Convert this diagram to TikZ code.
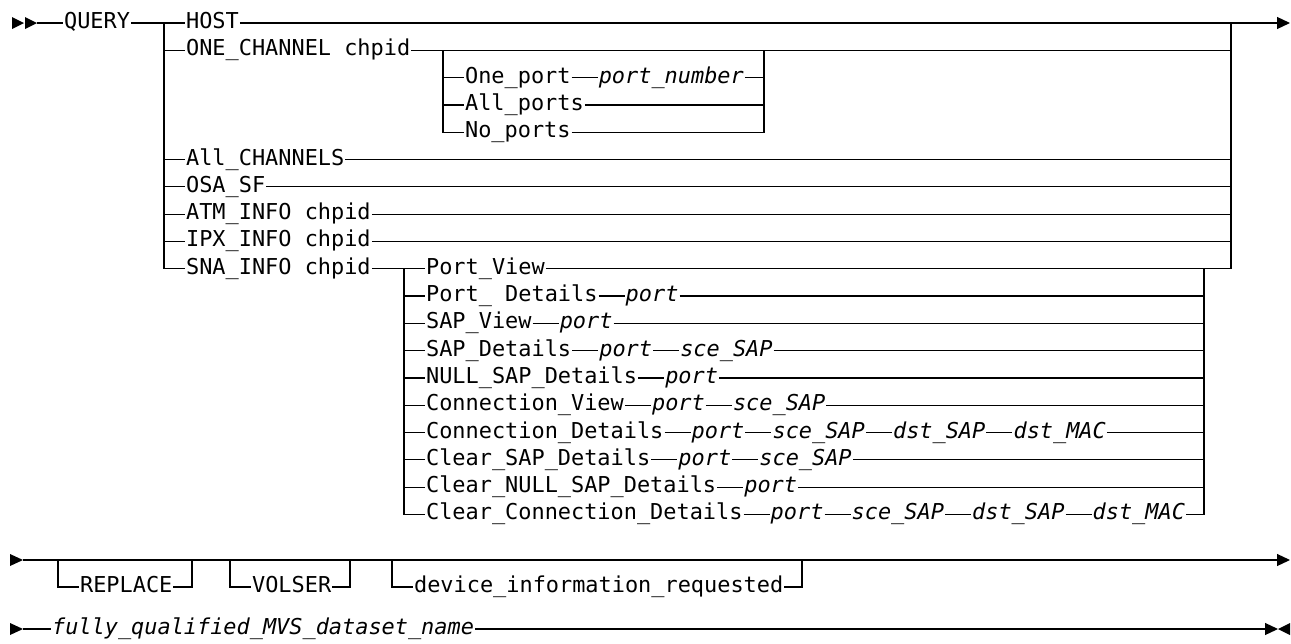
\documentclass[tikz,border=0pt]{standalone}
\usepackage{fontspec}
\newfontfamily\rrfont{DejaVu Sans Mono}
\usetikzlibrary{positioning,arrows.meta}

\begin{document}
\begin{tikzpicture}[x=1pt,y=-1pt,line width=1.2pt,node distance=26pt,
    >={Triangle[length=13pt,width=12pt]},
    kw/.style={font=\rrfont\fontsize{21.9pt}{26pt}\selectfont,anchor=west,
      inner xsep=0.5pt,inner ysep=0pt,text height=15pt,text depth=4pt},
    var/.style={kw,font=\rrfont\itshape\fontsize{21.9pt}{26pt}\selectfont}]
    \useasboundingbox (0,0) rectangle (1291,643);

    % first line
    \fill (12,17) -- (24,23) -- (12,29) -- cycle;
    \fill (25,17) -- (37,23) -- (25,29) -- cycle;
    \coordinate (s0) at (37,23);
    \coordinate (j0) at (164,23);
    \coordinate (j1) at (1231,23);
    \coordinate (e0) at (1290,23);
    \node[kw] (query) at (63,23) {QUERY};
    \node[kw] (host) at (185,23) {HOST};
    \node[kw] (onech) at (185,50.3) {ONE\_CHANNEL chpid};
    \node[kw] (allch) at (185,159.5) {All\_CHANNELS};
    \node[kw] (osasf) at (185,186.8) {OSA\_SF};
    \node[kw] (atm) at (185,214.1) {ATM\_INFO chpid};
    \node[kw] (ipx) at (185,241.4) {IPX\_INFO chpid};
    \node[kw] (sna) at (185,268.7) {SNA\_INFO chpid};

    \draw (s0) -- (query);
    \draw (query) -- (host);
    \draw[->] (host) -- (e0);
    \foreach \n in {onech,allch,osasf,atm,ipx,sna}
        \draw (j0) |- (\n);
    \foreach \n in {onech,allch,osasf,atm,ipx}
        \draw (\n) -| (j1);

    % ports of one channel
    \coordinate (o0) at (443,50.3);
    \coordinate (o1) at (764,50.3);
    \node[kw] (oneport) at (464,77.6) {One\_port};
    \node[var,right=of oneport] (portnum) {port\_number};
    \node[kw] (allports) at (464,104.9) {All\_ports};
    \node[kw] (noports) at (464,132.2) {No\_ports};
    \draw (oneport) -- (portnum);
    \foreach \n in {oneport,allports,noports}
        \draw (o0) |- (\n);
    \foreach \n in {portnum,allports,noports}
        \draw (\n) -| (o1);

    % sna info
    \coordinate (q0) at (404,268.7);
    \coordinate (q1) at (1204,268.7);
    \node[kw] (portview) at (425,268.7) {Port\_View};
    \node[kw] (portdet) at (425,296) {Port\_ Details};
    \node[var,right=of portdet] (portdet1) {port};
    \node[kw] (sapview) at (425,323.3) {SAP\_View};
    \node[var,right=of sapview] (sapview1) {port};
    \node[kw] (sapdet) at (425,350.6) {SAP\_Details};
    \node[var,right=of sapdet] (sapdet1) {port};
    \node[var,right=of sapdet1] (sapdet2) {sce\_SAP};
    \node[kw] (nulldet) at (425,377.9) {NULL\_SAP\_Details};
    \node[var,right=of nulldet] (nulldet1) {port};
    \node[kw] (connview) at (425,405.2) {Connection\_View};
    \node[var,right=of connview] (connview1) {port};
    \node[var,right=of connview1] (connview2) {sce\_SAP};
    \node[kw] (conndet) at (425,432.5) {Connection\_Details};
    \node[var,right=of conndet] (conndet1) {port};
    \node[var,right=of conndet1] (conndet2) {sce\_SAP};
    \node[var,right=of conndet2] (conndet3) {dst\_SAP};
    \node[var,right=of conndet3] (conndet4) {dst\_MAC};
    \node[kw] (clrsap) at (425,459.8) {Clear\_SAP\_Details};
    \node[var,right=of clrsap] (clrsap1) {port};
    \node[var,right=of clrsap1] (clrsap2) {sce\_SAP};
    \node[kw] (clrnull) at (425,487.1) {Clear\_NULL\_SAP\_Details};
    \node[var,right=of clrnull] (clrnull1) {port};
    \node[kw] (clrconn) at (425,514.4) {Clear\_Connection\_Details};
    \node[var,right=of clrconn] (clrconn1) {port};
    \node[var,right=of clrconn1] (clrconn2) {sce\_SAP};
    \node[var,right=of clrconn2] (clrconn3) {dst\_SAP};
    \node[var,right=of clrconn3] (clrconn4) {dst\_MAC};

    \draw (sna) -- (portview);
    \draw (portview) -| (j1);
    \foreach \n in {portdet,sapview,sapdet,nulldet,connview,conndet,clrsap,clrnull,clrconn}
        \draw (q0) |- (\n);
    \foreach \a/\b in {portdet/portdet1,sapview/sapview1,sapdet/sapdet1,sapdet1/sapdet2,
        nulldet/nulldet1,connview/connview1,connview1/connview2,conndet/conndet1,
        conndet1/conndet2,conndet2/conndet3,conndet3/conndet4,clrsap/clrsap1,
        clrsap1/clrsap2,clrnull/clrnull1,clrconn/clrconn1,clrconn1/clrconn2,
        clrconn2/clrconn3,clrconn3/clrconn4}
        \draw (\a) -- (\b);
    \foreach \n in {portdet1,sapview1,sapdet2,nulldet1,connview2,conndet4,clrsap2,clrnull1,clrconn4}
        \draw (\n) -| (q1);

    % second line
    \fill (10,554) -- (23,560) -- (10,566) -- cycle;
    \coordinate (s2) at (23,560);
    \coordinate (e2) at (1290,560);
    \draw[->] (s2) -- (e2);
    \coordinate (r0) at (58,560);
    \coordinate (r1) at (192,560);
    \coordinate (v0) at (230,560);
    \coordinate (v1) at (350,560);
    \coordinate (d0) at (392,560);
    \coordinate (d1) at (802,560);
    \node[kw] (replace) at (79,587) {REPLACE};
    \node[kw] (volser) at (251,587) {VOLSER};
    \node[kw] (devinfo) at (413,587) {device\_information\_requested};
    \draw (r0) |- (replace);
    \draw (replace) -| (r1);
    \draw (v0) |- (volser);
    \draw (volser) -| (v1);
    \draw (d0) |- (devinfo);
    \draw (devinfo) -| (d1);

    % third line
    \fill (10,623) -- (23,629) -- (10,635) -- cycle;
    \coordinate (s3) at (23,629);
    \coordinate (e3) at (1278,629);
    \node[var] (dsname) at (51,629) {fully\_qualified\_MVS\_dataset\_name};
    \draw (s3) -- (dsname);
    \draw[->] (dsname) -- (e3);
    \fill (1290,623) -- (1278,629) -- (1290,635) -- cycle;
\end{tikzpicture}
\end{document}
